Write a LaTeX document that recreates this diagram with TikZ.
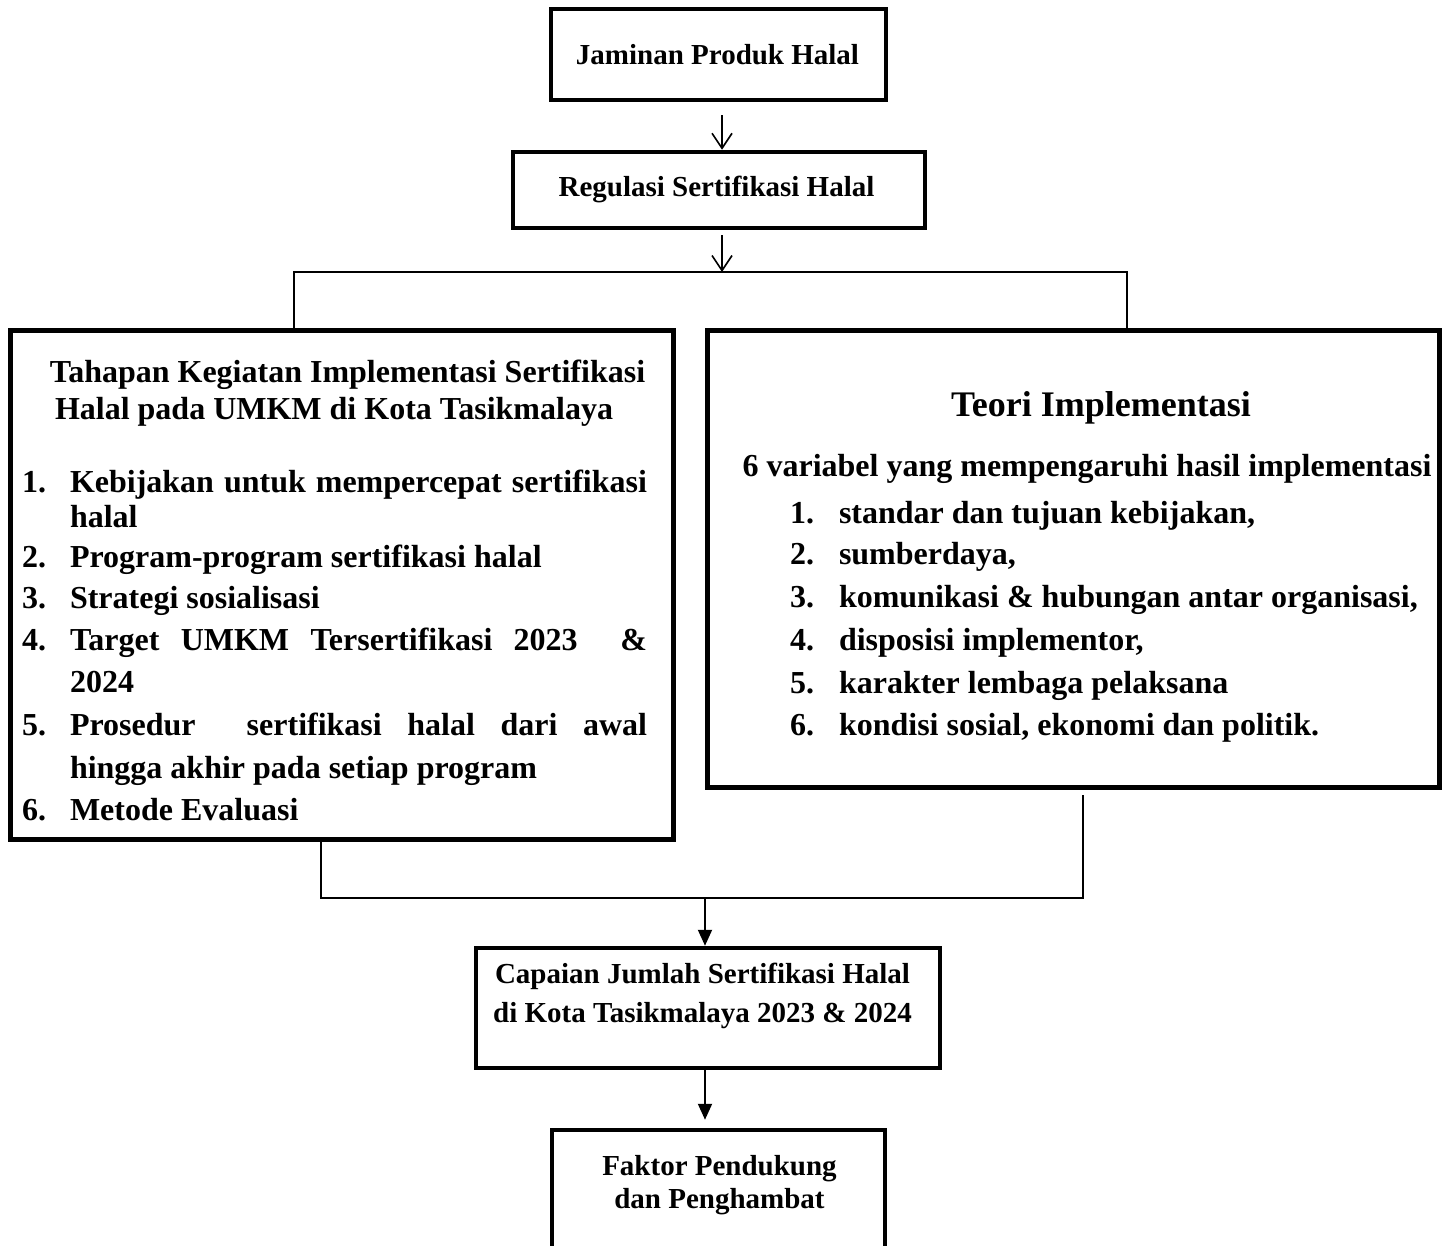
\documentclass[tikz,border=0pt]{standalone}
\usepackage{fontspec}
\setmainfont{Liberation Serif}
\usetikzlibrary{arrows.meta}
\begin{document}
\begin{tikzpicture}[x=1pt,y=-1pt,
  thickbox/.style={draw, line width=5pt, inner sep=0pt},
  smallbox/.style={draw, line width=4.5pt, inner sep=0pt},
  tsmall/.style={inner sep=0pt, outer sep=0pt, font=\bfseries\fontsize{29}{35}\selectfont},
  tbig/.style={inner sep=0pt, outer sep=0pt, font=\bfseries\fontsize{32}{38}\selectfont},
  ttitle/.style={inner sep=0pt, outer sep=0pt, font=\bfseries\fontsize{36}{42}\selectfont},
  conn/.style={line width=1.6pt},
  openarrow/.style={conn, -{Straight Barb[length=15pt,width=20pt]}},
  filledarrow/.style={line width=2pt, -{Triangle[length=16pt,width=14pt]}}]
\useasboundingbox (0,0) rectangle (1444,1246);
\clip (0,0) rectangle (1444,1246);

% boxes
\node[smallbox, minimum width=335pt, minimum height=91pt] (jph) at (718.5,54.5) {};
\node[smallbox, minimum width=412pt, minimum height=76pt] (reg) at (719,190) {};
\node[thickbox, minimum width=663pt, minimum height=509pt] (tahap) at (342,585) {};
\node[thickbox, minimum width=732pt, minimum height=457pt] (teori) at (1073.5,559) {};
\node[smallbox, minimum width=464pt, minimum height=120pt] (cap) at (708,1008) {};
\node[smallbox, minimum width=333pt, minimum height=170pt] (fak) at (718.5,1215) {};

% box texts
\node[tsmall, anchor=base] (tjph) at (717.5,65) {Jaminan Produk Halal};
\node[tsmall, anchor=base] (treg) at (716.5,197) {Regulasi Sertifikasi Halal};

\node[tbig, anchor=base] (tt1) at (347.5,383) {Tahapan Kegiatan Implementasi Sertifikasi};
\node[tbig, anchor=base] (tt2) at (334,420) {Halal pada UMKM di Kota Tasikmalaya};

\node[tbig, anchor=base west] (n1) at (22,493) {1.};
\node[tbig, anchor=base west] (l1a) at (70,493) {\makebox[577pt][s]{Kebijakan untuk mempercepat sertifikasi}};
\node[tbig, anchor=base west] (l1b) at (70,528) {halal};
\node[tbig, anchor=base west] (n2) at (22,567) {2.};
\node[tbig, anchor=base west] (l2) at (70,567) {Program-program sertifikasi halal};
\node[tbig, anchor=base west] (n3) at (22,608) {3.};
\node[tbig, anchor=base west] (l3) at (70,608) {Strategi sosialisasi};
\node[tbig, anchor=base west] (n4) at (22,650) {4.};
\node[tbig, anchor=base west] (l4a) at (70,650) {\makebox[577pt][s]{Target\hfill UMKM\hfill Tersertifikasi\hfill 2023\hfill\hfill\&}};
\node[tbig, anchor=base west] (l4b) at (70,692) {2024};
\node[tbig, anchor=base west] (n5) at (22,735) {5.};
\node[tbig, anchor=base west] (l5a) at (70,735) {\makebox[577pt][s]{Prosedur\hfill\hfill sertifikasi\hfill halal\hfill dari\hfill awal}};
\node[tbig, anchor=base west] (l5b) at (70,778) {hingga akhir pada setiap program};
\node[tbig, anchor=base west] (n6) at (22,820) {6.};
\node[tbig, anchor=base west] (l6) at (70,820) {Metode Evaluasi};

\node[ttitle, anchor=base] (rt) at (1101,417) {Teori Implementasi};
\node[tbig, anchor=base] (rs) at (1087,477) {6 variabel yang mempengaruhi hasil implementasi};
\node[tbig, anchor=base west] (m1) at (790,523) {1.};
\node[tbig, anchor=base west] (r1) at (839,523) {standar dan tujuan kebijakan,};
\node[tbig, anchor=base west] (m2) at (790,565) {2.};
\node[tbig, anchor=base west] (r2) at (839,565) {sumberdaya,};
\node[tbig, anchor=base west] (m3) at (790,607) {3.};
\node[tbig, anchor=base west] (r3) at (839,607) {komunikasi \& hubungan antar organisasi,};
\node[tbig, anchor=base west] (m4) at (790,650) {4.};
\node[tbig, anchor=base west] (r4) at (839,650) {disposisi implementor,};
\node[tbig, anchor=base west] (m5) at (790,693) {5.};
\node[tbig, anchor=base west] (r5) at (839,693) {karakter lembaga pelaksana};
\node[tbig, anchor=base west] (m6) at (790,735) {6.};
\node[tbig, anchor=base west] (r6) at (839,735) {kondisi sosial, ekonomi dan politik.};

\node[tsmall, anchor=base] (c1) at (702.5,983) {Capaian Jumlah Sertifikasi Halal};
\node[tsmall, anchor=base] (c2) at (702.5,1022) {di Kota Tasikmalaya 2023 \& 2024};
\node[tsmall, anchor=base] (f1) at (719.5,1175) {Faktor Pendukung};
\node[tsmall, anchor=base] (f2) at (719.5,1208) {dan Penghambat};

% connectors
\coordinate (split) at (722,272);
\coordinate (hl) at (294,272);
\coordinate (hr) at (1127,272);
\coordinate (jl) at (321,898);
\coordinate (jr) at (1083,898);
\coordinate (jm) at (705,898);

\draw[openarrow, shorten <=13pt] (split |- jph.south) -- (split |- reg.north);
\draw[openarrow, shorten <=5pt] (split |- reg.south) -- (split);
\draw[conn] (hl |- tahap.north) -- (hl) -- (hr) -- (hr |- teori.north);

\draw[conn] (jl |- tahap.south) -- (jl) -- (jr) -- ([yshift=-5pt]jr |- teori.south);
\draw[filledarrow] (jm) -- (jm |- cap.north);
\draw[filledarrow, shorten >=8pt] (jm |- cap.south) -- (jm |- fak.north);
\end{tikzpicture}
\end{document}
